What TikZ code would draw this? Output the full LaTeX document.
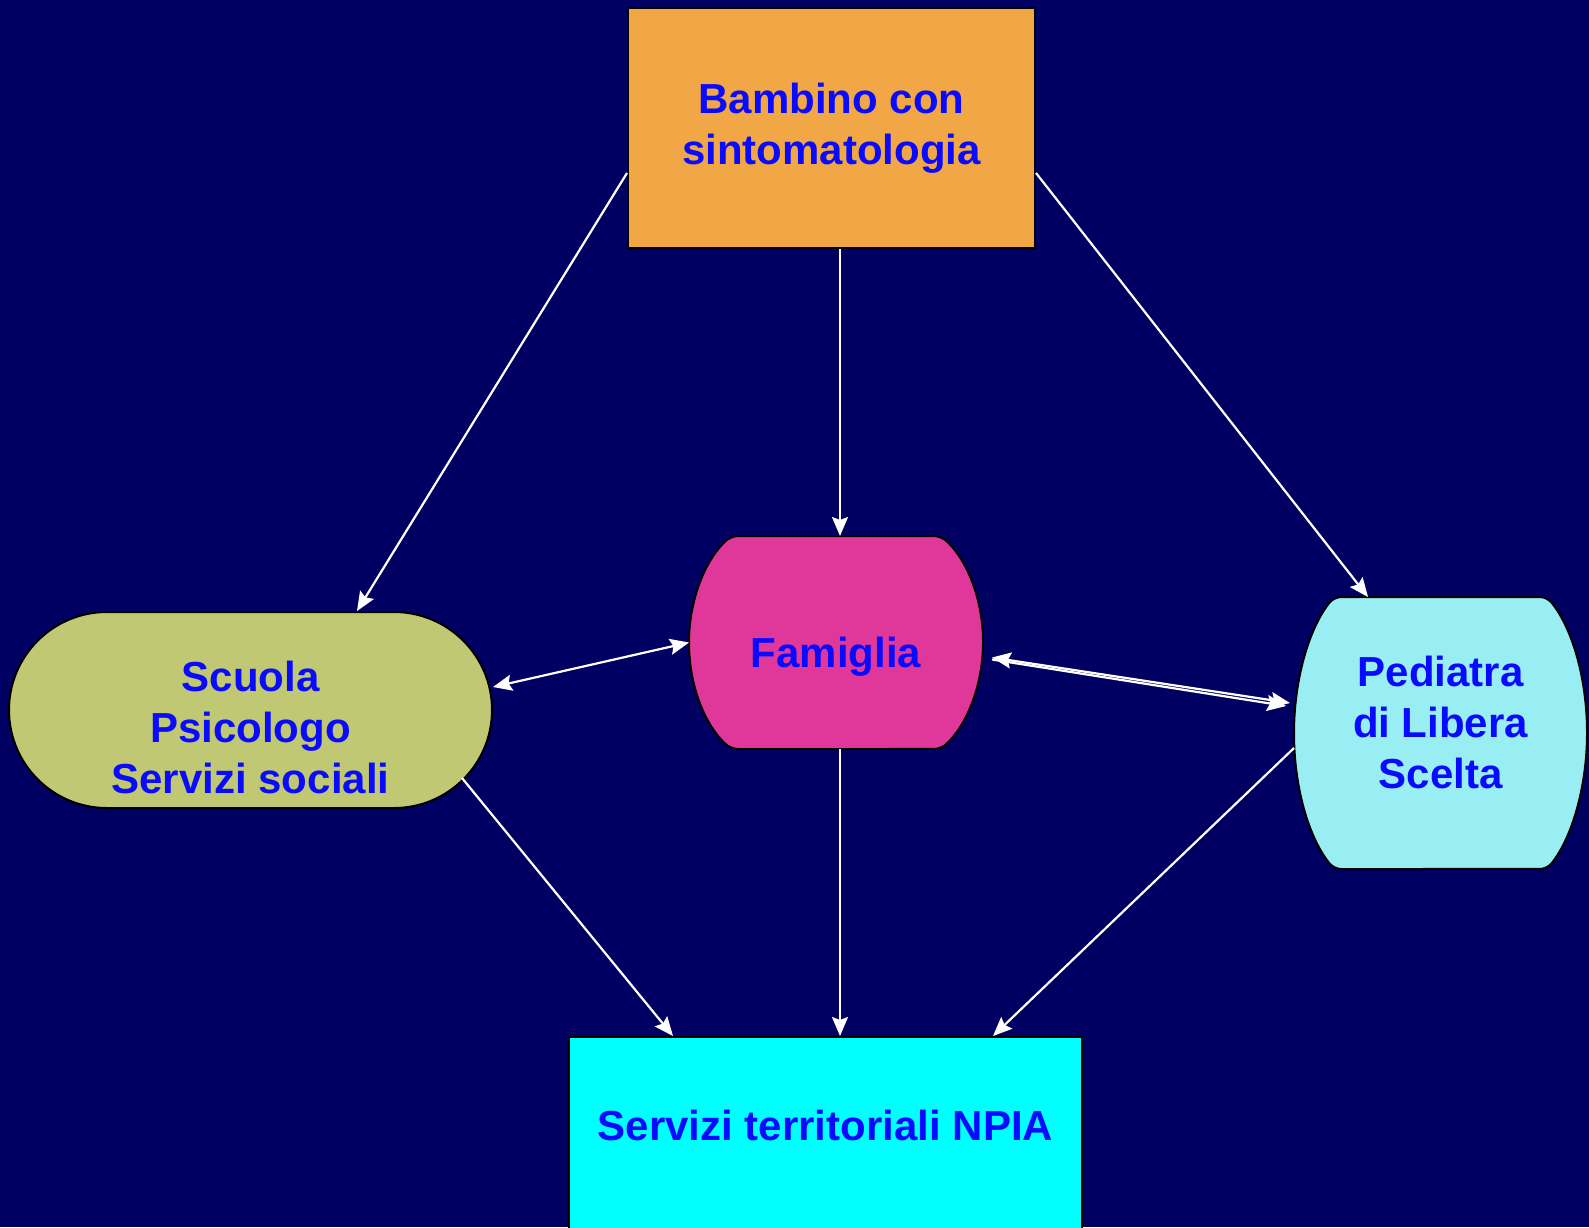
\documentclass[tikz,border=0pt]{standalone}
\usepackage{fontspec}
\setmainfont{Liberation Sans}
\usetikzlibrary{arrows.meta,shapes.misc}
\definecolor{navy}{RGB}{0,0,98}
\definecolor{txtblue}{RGB}{10,10,255}
\definecolor{bambfill}{RGB}{242,167,70}
\definecolor{famfill}{RGB}{224,56,154}
\definecolor{pedfill}{RGB}{153,238,244}
\definecolor{scuofill}{RGB}{193,200,116}
\definecolor{npiafill}{RGB}{0,255,255}
\pgfdeclarelayer{bg}
\pgfsetlayers{bg,main}
\tikzset{
  box/.style={draw=black, line width=2pt, inner sep=0pt, text=txtblue,
    font=\fontsize{42}{51}\selectfont\bfseries, align=center},
  arr/.style={draw=white, line width=2.2pt, -{Stealth[length=19pt,width=16pt,inset=3pt]}},
  darr/.style={arr, {Stealth[length=19pt,width=16pt,inset=3pt]}-{Stealth[length=19pt,width=16pt,inset=3pt]}},
}
% barrel outline round a node: node, bulge, x radius, y radius, fill
\newcommand{\barrel}[5]{%
  \filldraw[fill=#5, draw=black, line width=2pt, rounded corners=7pt]
    (#1.north) -- ([xshift=-#2pt]#1.north east)
    arc[start angle=55, end angle=-55, x radius=#3pt, y radius=#4pt]
    -- ([xshift=#2pt]#1.south west)
    arc[start angle=235, end angle=125, x radius=#3pt, y radius=#4pt] -- cycle;}
\begin{document}
\begin{tikzpicture}[x=1pt,y=-1pt]
\useasboundingbox (0,0) rectangle (1589,1227);
\begin{pgfonlayer}{bg}
\fill[navy] (0,0) rectangle (1589,1227);
\end{pgfonlayer}
\node[box, fill=bambfill, minimum width=407pt, minimum height=240pt] (bamb) at (831.5,128) {Bambino con\\sintomatologia};
\node[box, fill=scuofill, rounded rectangle, minimum width=483pt, minimum height=196pt, text height=176pt, text depth=10pt] (scuola) at (250.5,710) {Scuola\\Psicologo\\Servizi sociali};
\node[box, draw=none, minimum width=292pt, minimum height=211pt, text height=60pt, text depth=11pt] (fam) at (836,642.5) {Famiglia};
\node[box, draw=none, minimum width=291pt, minimum height=270pt, text height=120pt, text depth=10pt] (ped) at (1440.5,733) {Pediatra\\di Libera\\Scelta};
\node[box, fill=npiafill, anchor=north, minimum width=513pt, text height=103pt, text depth=130pt] (npia) at (825.5,1036) {Servizi territoriali NPIA};
\begin{pgfonlayer}{bg}
\barrel{fam}{42}{98.5}{130.0}{famfill}
\barrel{ped}{40}{93.8}{166.0}{pedfill}
\end{pgfonlayer}
\draw[arr] ([yshift=-45pt]bamb.west) -- ([xshift=106.5pt]scuola.north);
\draw[arr] ([xshift=8.5pt]bamb.south) -- ([xshift=8.5pt]bamb.south |- fam.north);
\draw[arr] ([yshift=-45pt]bamb.east) -- ([xshift=-72.5pt]ped.north);
\draw[darr] ([yshift=23pt]scuola.east) -- (fam.west);
\draw[darr] ([xshift=9pt,yshift=-15pt]fam.east) -- ([xshift=-4pt,yshift=30pt]ped.west);
\draw[arr] ([xshift=9pt,yshift=-17pt]fam.east) -- ([xshift=-8pt,yshift=27pt]ped.west);
\draw[arr] ([xshift=211.5pt,yshift=-68pt]scuola.center) -- ([xshift=-152.5pt]npia.north);
\draw[arr] ([xshift=4pt]fam.south) -- ([xshift=4pt]fam.south |- npia.north);
\draw[arr] ([yshift=-15pt]ped.west) -- ([xshift=167.5pt]npia.north);
\end{tikzpicture}
\end{document}
